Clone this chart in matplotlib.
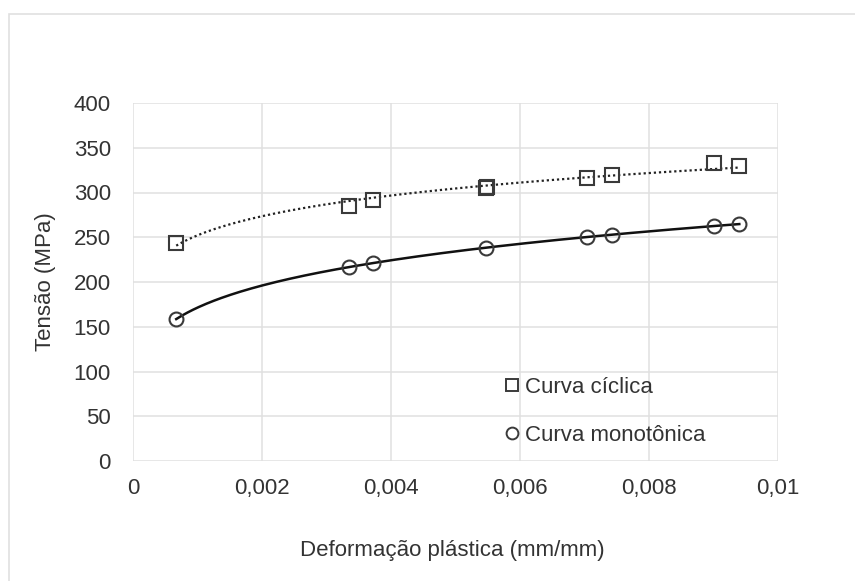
"""
Curva cíclica x curva monotônica - tensão vs deformação plástica
"""

import numpy as np
import matplotlib.pyplot as plt
from matplotlib.patches import Rectangle
from matplotlib.lines import Line2D

# ============================================================================
# DADOS
# ============================================================================

def_ciclica = [0.00067, 0.00335, 0.00372, 0.00548, 0.00549, 0.00704, 0.00743, 0.00900, 0.00940]
tensao_ciclica = [243.7, 285.2, 291.1, 305.5, 306.6, 316.7, 319.6, 333.3, 329.6]

def_monotonica = [0.00067, 0.00335, 0.00372, 0.00548, 0.00704, 0.00743, 0.00900, 0.00940]
tensao_monotonica = [158.5, 216.7, 221.5, 238.1, 250.4, 253.0, 262.2, 264.8]

x_ticks = [0, 0.002, 0.004, 0.006, 0.008, 0.01]
x_tick_labels = ["0", "0,002", "0,004", "0,006", "0,008", "0,01"]
y_ticks = [0, 50, 100, 150, 200, 250, 300, 350, 400]

TEXT_COLOR = "#333333"
GRID_COLOR = "#e0e0e0"
MARKER_COLOR = "#3a3a3a"
FS = 16

plt.rcParams["font.family"] = ["Liberation Sans", "DejaVu Sans"]


def power_trend(x, y):
    """Linha de tendência de potência (como no Excel)"""
    x = np.asarray(x)
    y = np.asarray(y)
    b, ln_a = np.polyfit(np.log(x), np.log(y), 1)
    xs = np.linspace(x.min(), x.max(), 300)
    return xs, np.exp(ln_a) * xs ** b


# ============================================================================
# FIGURA
# ============================================================================

fig = plt.figure(figsize=(8.55, 5.81), dpi=100)
ax = fig.add_axes([133 / 855, 1 - 461 / 581, 645 / 855, 358 / 581])

# borda do gráfico (só aparece em cima e à esquerda)
fig.patches.append(Rectangle((9 / 855, -0.05), 1.2, 1 - 14 / 581 + 0.05,
                             transform=fig.transFigure, fill=False,
                             edgecolor="#e0e0e0", linewidth=1.2, zorder=0))

# linhas de tendência
xs, ys = power_trend(def_ciclica, tensao_ciclica)
ax.plot(xs, ys, color="#222222", linewidth=1.6, linestyle=(0, (1, 1.3)), zorder=3)

xs, ys = power_trend(def_monotonica, tensao_monotonica)
ax.plot(xs, ys, color="#111111", linewidth=1.8, zorder=3)

# pontos
ax.plot(def_ciclica, tensao_ciclica, linestyle="none", marker="s", markersize=9.5,
        markerfacecolor="none", markeredgecolor=MARKER_COLOR, markeredgewidth=1.5,
        zorder=4)
ax.plot(def_monotonica, tensao_monotonica, linestyle="none", marker="o", markersize=10,
        markerfacecolor="none", markeredgecolor=MARKER_COLOR, markeredgewidth=1.5,
        zorder=4)

ax.set_xlim(0, 0.01)
ax.set_ylim(0, 400)
ax.set_xticks(x_ticks)
ax.set_xticklabels(x_tick_labels)
ax.set_yticks(y_ticks)

ax.grid(True, color=GRID_COLOR, linewidth=1.1)
ax.set_axisbelow(True)
for s in ax.spines.values():
    s.set_visible(False)

ax.tick_params(axis="both", length=0, labelsize=FS, colors=TEXT_COLOR)
ax.tick_params(axis="y", pad=16)
ax.tick_params(axis="x", pad=12)

ax.set_xlabel("Deformação plástica (mm/mm)", fontsize=FS, color=TEXT_COLOR)
ax.set_ylabel("Tensão (MPa)", fontsize=FS, color=TEXT_COLOR)
ax.xaxis.set_label_coords(0.495, -0.22)
ax.yaxis.set_label_coords(-0.12, 0.5)

# legenda
handles = [
    Line2D([], [], linestyle="none", marker="s", markersize=9, markerfacecolor="none",
           markeredgecolor=MARKER_COLOR, markeredgewidth=1.4),
    Line2D([], [], linestyle="none", marker="o", markersize=8.5, markerfacecolor="none",
           markeredgecolor=MARKER_COLOR, markeredgewidth=1.4),
]
leg = ax.legend(handles, ["Curva cíclica", "Curva monotônica"],
                loc="center left", bbox_to_anchor=(0.578, 0.139),
                frameon=False, fontsize=FS, handlelength=0.6,
                handletextpad=0.25, labelspacing=1.2, borderpad=0,
                borderaxespad=0)
for t in leg.get_texts():
    t.set_color(TEXT_COLOR)

plt.savefig("out.png", dpi=100)
